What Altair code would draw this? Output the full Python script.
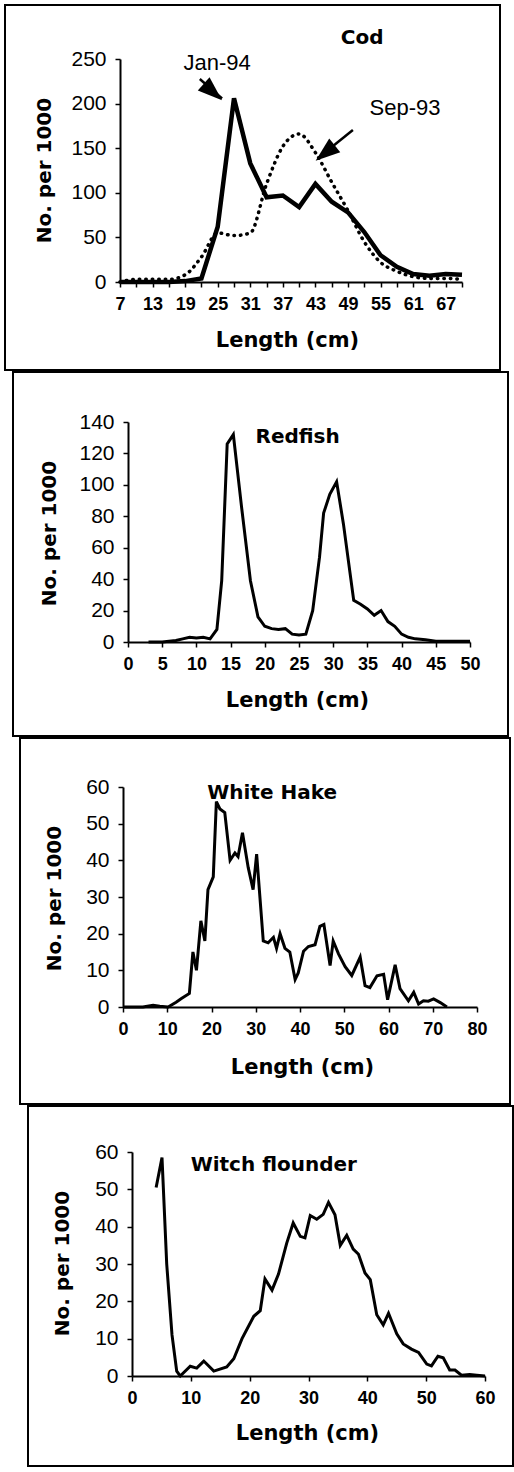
import altair as alt
import pandas as pd

# ---------------- data ----------------
cod_len = [7, 10, 13, 16, 19, 22, 25, 28, 31, 34, 37, 40, 43, 46, 49, 52, 55, 58, 61, 64, 67, 70]
cod_jan94 = [0, 0, 0, 0, 1, 4, 62, 206, 133, 95, 97, 84, 110, 90, 78, 56, 30, 17, 9, 7, 9, 8]
cod_sep93 = [0, 3, 3, 3, 8, 28, 55, 52, 55, 110, 152, 166, 145, 112, 80, 45, 22, 12, 6, 4, 4, 3]
cod_xticks = [7, 10, 13, 16, 19, 22, 25, 28, 31, 34, 37, 40, 43, 46, 49, 52, 55, 58, 61, 64, 67, 70]
cod_yticks = [0, 50, 100, 150, 200, 250]

red_len = [3, 5, 6, 7, 8, 9, 10, 11, 12, 13, 13.7, 14.5, 15.4, 16.6, 17.9, 19, 20, 21, 22, 23, 24,
           25, 26, 27, 28, 28.6, 29.5, 30.5, 31.5, 33, 34, 35, 36, 37, 38, 39, 40, 41, 42, 43.5,
           45, 47, 50]
red_val = [0, 0, 0.5, 1, 2, 3, 2.5, 3, 2, 8, 39, 126, 132, 86, 39, 16, 10, 8.5, 8, 8.5, 5,
           4.5, 5, 20, 54, 82, 94, 102, 75, 26.5, 24, 21, 17, 20, 13, 10, 5, 3, 2, 1.5,
           0.5, 0.5, 0.5]
red_xticks = [0, 5, 10, 15, 20, 25, 30, 35, 40, 45, 50]
red_yticks = [0, 20, 40, 60, 80, 100, 120, 140]

hake_len = [0, 4.5, 6.8, 8.3, 10.2, 12, 13.2, 15, 15.8, 16.6, 17.6, 18.5, 19.2, 20.4, 21.1, 21.9,
            23, 24.2, 25.3, 26, 27, 28.3, 29.4, 30.2, 31.7, 32.8, 34, 34.7, 35.5, 36.6, 37.7,
            38.9, 39.6, 40.8, 41.9, 43.4, 44.5, 45.4, 46.8, 47.5, 48.7, 50.2, 51.7, 53.6, 54.7,
            55.8, 57.4, 58.9, 59.8, 61.5, 62.6, 64.5, 65.7, 66.8, 67.9, 69, 70.2, 71.7, 73.2]
hake_val = [0, 0, 0.5, 0.2, 0, 1.3, 2.3, 3.7, 15, 10, 23.5, 18, 32, 35.5, 56, 54,
            53, 40, 42, 41, 47.5, 38, 32, 41.7, 18, 17.5, 19, 16, 20, 16, 15,
            7.5, 9.3, 15.2, 16.5, 17, 22, 22.5, 11.3, 18, 14.5, 11, 8.6, 13.6, 5.8,
            5.3, 8.5, 8.9, 2, 11.5, 5, 1.7, 4, 0.8, 1.7, 1.6, 2.2, 1.2, 0]
hake_xticks = [0, 10, 20, 30, 40, 50, 60, 70, 80]
hake_yticks = [0, 10, 20, 30, 40, 50, 60]

witch_len = [4.1, 5.1, 5.9, 6.8, 7.6, 8.2, 9.9, 11, 12.2, 13.9, 16.1, 17.3, 18.7, 20.7, 21.8,
             22.6, 23.8, 24.9, 26.3, 27.4, 28.6, 29.4, 30.3, 31.4, 32.5, 33.4, 34.5, 35.4,
             36.5, 37.6, 38.5, 39.6, 40.5, 41.6, 42.7, 43.6, 45, 46.1, 47.5, 48.7, 50.1,
             50.9, 52, 52.9, 54, 54.9, 56, 57.4, 58.6, 60]
witch_val = [50.5, 58.5, 30, 11, 1.3, 0, 2.6, 2.1, 4, 1.3, 2.4, 4.6, 10, 16, 17.5,
             26, 23, 27.3, 35.6, 41, 37.4, 37, 43, 42, 43.3, 46.5, 43.2, 35,
             37.7, 34, 32.6, 27.6, 25.8, 16.4, 13.7, 16.8, 11.3, 8.6, 7.2, 6.3, 3.2,
             2.7, 5.3, 4.9, 1.6, 1.6, 0.2, 0.4, 0.2, 0]
witch_xticks = [0, 10, 20, 30, 40, 50, 60]
witch_yticks = [0, 10, 20, 30, 40, 50, 60]

# annotations (data coordinates)
titles = ["Cod", "Redfish", "White Hake", "Witch flounder"]
title_len = [51.6, 24.8, 33.7, 24.1]
title_val = [273.5, 130.7, 58.3, 56.5]
cod_notes = ["Jan-94", "Sep-93"]
cod_note_len = [24.9, 59.5]
cod_note_val = [245.5, 195]
arrow_tail_len = [21.7, 49.9]
arrow_tail_val = [227.6, 170.4]
arrow_tip_len = [25.8, 43.5]
arrow_tip_val = [205.7, 139]
arrow_head_len = [24.1, 44.8]
arrow_head_val = [213, 144.6]
arrow_head_angle = [131.6, 231.3]

TICK_FONT = "Liberation Sans"
TITLE_FONT = "DejaVu Sans"
ONE = alt.Data(values=[{"k": 1}])
HEAD = "M0,-1L0.72,1L-0.72,1Z"
O = 120  # common page-x origin of all panels


def setup(L, W, xticks, yticks, xdom, ydom, xtitle_page, xtitle_dy, ytitle_page_x, labelexpr=None):
    dx = L - O
    xaxis_kw = dict(
        values=xticks, title="Length (cm)", titleX=xtitle_page - O, titleY=xtitle_dy,
        titleAlign="center", titleBaseline="middle", titleFont=TITLE_FONT,
        titleFontSize=21, titleFontWeight="bold", labelFont=TICK_FONT,
        labelFontSize=18, labelFontWeight="bold", labelPadding=8,
        labelOverlap=False, labelFlush=False, grid=False,
    )
    if labelexpr:
        xaxis_kw["labelExpr"] = labelexpr
    xa = alt.Axis(**xaxis_kw)
    ya_kw = dict(
        values=yticks, title="No. per 1000", titleX=ytitle_page_x - L, titleY=111,
        titleAngle=270, titleAlign="center", titleBaseline="middle",
        titleFont=TITLE_FONT, titleFontSize=20, titleFontWeight="bold",
        labelFont=TICK_FONT, labelFontSize=21, labelPadding=9,
        labelOverlap=False, labelFlush=False, grid=False,
    )
    if dx:
        ya_kw["offset"] = -dx
    ya = alt.Axis(**ya_kw)
    xs = alt.Scale(domain=xdom, range=[dx, dx + W], nice=False, zero=False)
    ys = alt.Scale(domain=ydom, nice=False, zero=False)
    return xa, ya, xs, ys, dx + W


def frame(H, bx, by, T):
    border = alt.Chart(ONE).mark_rect(
        fill="white", fillOpacity=0, stroke="black", strokeWidth=2
    ).encode(x=alt.value(bx[0] - O), x2=alt.value(bx[1] - O),
             y=alt.value(by[0] - T), y2=alt.value(by[1] - T))
    spacer = alt.Chart(ONE).mark_rule(opacity=0).encode(
        x=alt.value(-O), y=alt.value(0), y2=alt.value(H)
    )
    return border, spacer


def title_layer(i, xa, ya, xs, ys):
    df = pd.DataFrame({"len": [title_len[i]], "val": [title_val[i]], "t": [titles[i]]})
    return alt.Chart(df).mark_text(
        font=TITLE_FONT, fontSize=20, fontWeight="bold", align="center", baseline="middle",
        color="black"
    ).encode(x=alt.X("len:Q", scale=xs, axis=xa), y=alt.Y("val:Q", scale=ys, axis=ya), text="t:N")


# ---------------- Cod ----------------
cL, cT, cW, cH = 120, 59, 342, 223
xa, ya, xs, ys, vw = setup(cL, cW, cod_xticks, cod_yticks, [7, 70], [0, 250], 287, 340 - 282, 44,
                           labelexpr="(datum.value - 7) % 6 == 0 && datum.value < 70 ? datum.label : ''")
cb, csp = frame(cH, (5, 500), (5, 370), cT)
cod_df = pd.DataFrame({"len": cod_len, "jan": cod_jan94, "sep": cod_sep93})
sep_line = alt.Chart(cod_df).mark_line(
    color="black", strokeWidth=3.5, strokeDash=[0.5, 6], strokeCap="round", interpolate="monotone"
).encode(x=alt.X("len:Q", scale=xs, axis=xa), y=alt.Y("sep:Q", scale=ys, axis=ya))
jan_line = alt.Chart(cod_df).mark_line(color="black", strokeWidth=4.5, strokeJoin="miter").encode(
    x=alt.X("len:Q", scale=xs, axis=xa), y=alt.Y("jan:Q", scale=ys, axis=ya)
)
note_df = pd.DataFrame({
    "len": cod_note_len, "val": cod_note_val, "t": cod_notes,
    "tl": arrow_tail_len, "tv": arrow_tail_val, "pl": arrow_tip_len, "pv": arrow_tip_val,
    "hl": arrow_head_len, "hv": arrow_head_val, "ang": arrow_head_angle,
})
notes = alt.Chart(note_df).mark_text(
    font=TICK_FONT, fontSize=22, align="center", baseline="middle", color="black"
).encode(x=alt.X("len:Q", scale=xs, axis=xa), y=alt.Y("val:Q", scale=ys, axis=ya), text="t:N")
shafts = alt.Chart(note_df).mark_rule(color="black", strokeWidth=2.5).encode(
    x=alt.X("tl:Q", scale=xs, axis=xa), y=alt.Y("tv:Q", scale=ys, axis=ya), x2="pl:Q", y2="pv:Q"
)
heads = alt.Chart(note_df).mark_point(
    shape=HEAD, filled=True, color="black", opacity=1, size=600
).encode(x=alt.X("hl:Q", scale=xs, axis=xa), y=alt.Y("hv:Q", scale=ys, axis=ya),
         angle=alt.Angle("ang:Q", scale=None))
cod = alt.layer(cb, csp, sep_line, jan_line, notes, shafts, heads,
                title_layer(0, xa, ya, xs, ys)).properties(width=vw, height=cH)

# ---------------- Redfish ----------------
rL, rT, rW, rH = 128, 422, 342, 220
xa, ya, xs, ys, vw = setup(rL, rW, red_xticks, red_yticks, [0, 50], [0, 140], 297, 700 - 642, 49)
rb, rsp = frame(rH, (13, 508), (372, 736), rT)
red_df = pd.DataFrame({"len": red_len, "val": red_val})
red_line = alt.Chart(red_df).mark_line(color="black", strokeWidth=3).encode(
    x=alt.X("len:Q", scale=xs, axis=xa), y=alt.Y("val:Q", scale=ys, axis=ya)
)
red = alt.layer(rb, rsp, red_line, title_layer(1, xa, ya, xs, ys)).properties(width=vw, height=rH)

# ---------------- White Hake ----------------
hL, hT, hW, hH = 123, 787, 354, 220
xa, ya, xs, ys, vw = setup(hL, hW, hake_xticks, hake_yticks, [0, 80], [0, 60], 302, 1067 - 1007, 54)
hb, hsp = frame(hH, (20, 510), (738, 1104), hT)
hake_df = pd.DataFrame({"len": hake_len, "val": hake_val})
hake_line = alt.Chart(hake_df).mark_line(color="black", strokeWidth=3).encode(
    x=alt.X("len:Q", scale=xs, axis=xa), y=alt.Y("val:Q", scale=ys, axis=ya)
)
hake = alt.layer(hb, hsp, hake_line, title_layer(2, xa, ya, xs, ys)).properties(width=vw, height=hH)

# ---------------- Witch flounder ----------------
wL, wT, wW, wH = 132, 1152, 353, 224
xa, ya, xs, ys, vw = setup(wL, wW, witch_xticks, witch_yticks, [0, 60], [0, 60], 307, 1433 - 1376, 62)
wb, wsp = frame(wH, (28, 513), (1106, 1466), wT)
witch_df = pd.DataFrame({"len": witch_len, "val": witch_val})
witch_line = alt.Chart(witch_df).mark_line(color="black", strokeWidth=3).encode(
    x=alt.X("len:Q", scale=xs, axis=xa), y=alt.Y("val:Q", scale=ys, axis=ya)
)
witch = alt.layer(wb, wsp, witch_line, title_layer(3, xa, ya, xs, ys)).properties(width=vw, height=wH)

chart = alt.concat(cod, red, hake, witch, columns=1, spacing=0, align="none", bounds="full").properties(
    padding={"left": 0, "top": 4, "right": 0, "bottom": 0},
    background="white",
).configure_view(stroke=None).configure_axis(
    domainColor="black", domainWidth=2, tickColor="black", tickWidth=1.5, tickSize=5,
    labelColor="black", titleColor="black", labelOverlap=False, labelFlush=False,
)

chart.save("out.html", embed_options={"renderer": "svg", "actions": False})
